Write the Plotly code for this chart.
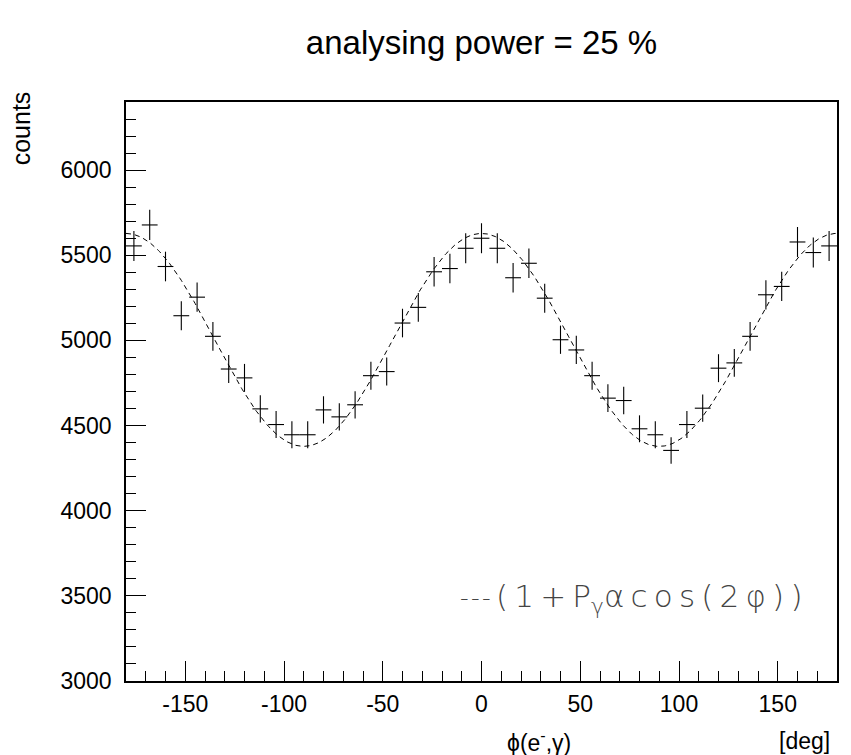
import numpy as np
import plotly.graph_objects as go

# ---- data ----
phi_deg = [-176, -168, -160, -152, -144, -136, -128, -120, -112, -104,
           -96, -88, -80, -72, -64, -56, -48, -40, -32, -24,
           -16, -8, 0, 8, 16, 24, 32, 40, 48, 56,
           64, 72, 80, 88, 96, 104, 112, 120, 128, 136,
           144, 152, 160, 168, 176]
counts = [5555, 5678, 5434, 5145, 5254, 5024, 4832, 4780, 4598, 4506,
          4446, 4446, 4592, 4551, 4622, 4793, 4817, 5102, 5194, 5403,
          5422, 5541, 5600, 5541, 5368, 5453, 5248, 5004, 4944, 4793,
          4661, 4647, 4481, 4446, 4354, 4506, 4602, 4837, 4868, 5024,
          5268, 5317, 5578, 5516, 5555]
count_err = [88, 89, 87, 85, 86, 84, 82, 82, 80, 79,
             79, 79, 80, 80, 80, 82, 82, 84, 85, 87,
             87, 88, 88, 88, 86, 87, 85, 83, 83, 82,
             81, 81, 79, 79, 78, 79, 80, 82, 82, 84,
             86, 86, 88, 88, 88]
bin_half_width = [4] * len(phi_deg)

# fit parameters of N0*(1 + P*alpha*cos(2 phi))
FIT_N0 = 5003
FIT_PALPHA = 0.125

x_tick_vals = [-150, -100, -50, 0, 50, 100, 150]
x_tick_text = ["-150", "-100", "-50", "0", "50", "100", "150"]
y_tick_vals = [3000, 3500, 4000, 4500, 5000, 5500, 6000]
y_tick_text = ["3000", "3500", "4000", "4500", "5000", "5500", "6000"]

fit_x = np.linspace(-180, 180, 721)
fit_y = FIT_N0 * (1 + FIT_PALPHA * np.cos(2 * np.deg2rad(fit_x)))

fig = go.Figure()
fig.add_trace(go.Scatter(
    x=fit_x, y=fit_y, mode="lines",
    line=dict(color="black", width=1, dash="5px,4px"),
    hoverinfo="skip", showlegend=False))
fig.add_trace(go.Scatter(
    x=phi_deg, y=counts, mode="markers",
    marker=dict(size=1, color="rgba(0,0,0,0)"),
    error_x=dict(type="data", array=bin_half_width, color="black", thickness=1.1, width=0),
    error_y=dict(type="data", array=count_err, color="black", thickness=1.1, width=0),
    showlegend=False))

# the page body has an 8px margin; lay out in page pixels and compensate
OFF = 8
W, H = 851 - OFF, 755 - OFF
L, T = 126 - OFF, 102 - OFF
pw, ph = 713, 579
R = W - L - pw
B = H - T - ph

def px(xp):
    return (xp - OFF - L) / pw

def py(yp):
    return (T + ph - (yp - OFF)) / ph

font_main = "Liberation Sans, Arial, sans-serif"

fig.update_layout(
    width=W, height=H,
    margin=dict(l=L, r=R, t=T, b=B),
    paper_bgcolor="white", plot_bgcolor="white",
    font=dict(family=font_main, color="black"),
    title=dict(text="analysing power = 25 %", x=0.5, xref="paper",
               y=1 - (42 - OFF) / H, yref="container", xanchor="center", yanchor="middle",
               font=dict(size=33, family=font_main, color="black")),
    showlegend=False,
)
fig.update_xaxes(
    range=[-180, 180], showgrid=False, zeroline=False,
    showline=True, linecolor="black", linewidth=1.5, mirror=True,
    ticks="inside", ticklen=20, tickwidth=1, tickcolor="black",
    tickvals=x_tick_vals, ticktext=x_tick_text,
    tickfont=dict(size=23, family=font_main, color="black"),
    minor=dict(dtick=10, tick0=0, ticks="inside", ticklen=10, tickcolor="black", tickwidth=1, showgrid=False),
    ticklabelstandoff=2,
)
fig.update_yaxes(
    range=[3000, 6400], showgrid=False, zeroline=False,
    showline=True, linecolor="black", linewidth=1.5, mirror=True,
    ticks="inside", ticklen=20, tickwidth=1, tickcolor="black",
    tickvals=y_tick_vals, ticktext=y_tick_text,
    tickfont=dict(size=23, family=font_main, color="black"),
    minor=dict(dtick=100, tick0=0, ticks="inside", ticklen=10, tickcolor="black", tickwidth=1, showgrid=False),
    ticklabelstandoff=8,
)

fig.add_annotation(text="counts", xref="paper", yref="paper", x=px(21), y=py(128),
                   textangle=-90, showarrow=False, xanchor="center", yanchor="middle",
                   font=dict(size=25, family=font_main, color="black"))
fig.add_annotation(text="ϕ(e<sup>-</sup>,γ)", xref="paper", yref="paper", x=px(540), y=py(741),
                   showarrow=False, xanchor="center", yanchor="middle",
                   font=dict(size=23, family=font_main, color="black"))
fig.add_annotation(text="[deg]", xref="paper", yref="paper", x=px(806), y=py(741),
                   showarrow=False, xanchor="center", yanchor="middle",
                   font=dict(size=23, family=font_main, color="black"))
fig.add_annotation(text="-\u200a-\u200a-", xref="paper", yref="paper",
                   x=px(476), y=py(598), showarrow=False, xanchor="center", yanchor="middle",
                   font=dict(size=24, family="DejaVu Sans, sans-serif", color="#444", weight=200))
fig.add_annotation(text="(\u20091\u2009+\u2009P<sub>γ</sub>α\u2009c\u2009o\u2009s\u2009(\u20092\u2009φ\u2009)\u2009)",
                   xref="paper", yref="paper",
                   x=px(651), y=py(598), showarrow=False, xanchor="center", yanchor="middle",
                   font=dict(size=31, family="DejaVu Sans, sans-serif", color="#444", weight=200))

fig.write_html("out.html")
